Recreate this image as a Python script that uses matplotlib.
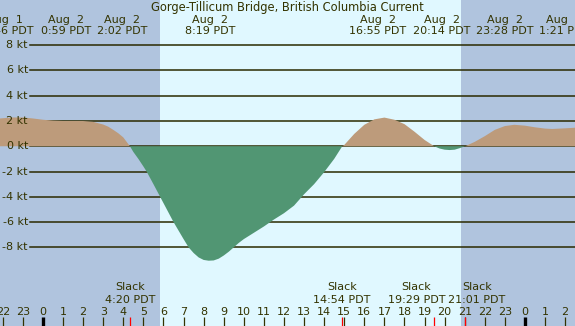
import matplotlib
matplotlib.use("Agg")
import matplotlib.pyplot as plt
import matplotlib.transforms as mtransforms
import numpy as np

# ---- data (hours relative to Aug 2 00:00 PDT, current in knots) ----
hours = [-2.14, -2.0, -1.5, -1.0, -0.5, 0.0, 0.5, 1.0, 1.5, 2.0, 2.5, 3.0, 3.25, 3.5, 3.75, 4.0, 4.33,
         4.5, 4.75, 5.0, 5.16, 5.5, 6.0, 6.5, 7.0, 7.25, 7.5, 7.75, 8.0, 8.25, 8.5, 8.75, 9.0, 9.25,
         9.5, 9.75, 10.0, 10.5, 11.0, 11.5, 12.0, 12.5, 13.0, 13.5, 14.0, 14.5, 14.9,
         15.0, 15.5, 16.0, 16.5, 17.0, 17.5, 18.0, 18.5, 19.0, 19.48,
         19.75, 20.0, 20.25, 20.5, 20.75, 21.02,
         21.5, 22.0, 22.5, 23.0, 23.47, 24.0, 24.5, 25.0, 25.35, 26.0, 26.5]
knots = [2.2, 2.22, 2.28, 2.28, 2.2, 2.1, 2.03, 2.0, 2.0, 2.0, 1.93, 1.72, 1.55, 1.3, 1.03, 0.7, 0.0,
         -0.45, -1.0, -1.6, -2.0, -3.0, -4.5, -6.0, -7.35, -8.0, -8.45, -8.8, -9.0, -9.06, -9.04, -8.9, -8.65, -8.35,
         -8.0, -7.65, -7.35, -6.85, -6.35, -5.8, -5.3, -4.7, -3.8, -3.0, -2.05, -1.0, 0.0,
         0.1, 0.98, 1.7, 2.13, 2.27, 2.1, 1.75, 1.15, 0.5, 0.0,
         -0.18, -0.27, -0.3, -0.27, -0.15, 0.0,
         0.35, 0.8, 1.3, 1.6, 1.7, 1.63, 1.5, 1.4, 1.37, 1.42, 1.47]

sunrise = 5.83
sunset = 20.82

hour_ticks = list(range(-2, 27))
slack_hours = [4.33, 14.9, 19.48, 21.02]
slack_labels = ["4:20 PDT", "14:54 PDT", "19:29 PDT", "21:01 PDT"]
slack_label_x = [4.33, 14.88, 18.6, 21.6]

event_dates = ["Aug  1", "Aug  2", "Aug  2", "Aug  2", "Aug  2", "Aug  2", "Aug  2", "Aug  3"]
event_labels = ["22:46 PDT", "0:59 PDT", "2:02 PDT", "8:19 PDT", "16:55 PDT", "20:14 PDT", "23:28 PDT", "1:21 PDT"]
event_label_x = [-1.9, 1.15, 3.93, 8.32, 16.68, 19.87, 23.0, 25.95]

grid_levels = [8, 6, 4, 2, 0, -2, -4, -6, -8]

title = "Gorge-Tillicum Bridge, British Columbia Current"

# ---- style ----
NIGHT = "#b0c4de"
DAY = "#e0f8ff"
FLOOD = "#bd9b7b"
EBB = "#519673"
TXT = "#333300"
GRID = "#2a2a00"

plt.rcParams['font.family'] = ['DejaVu Sans']
FS = 8
FS_TITLE = 8.3

fig = plt.figure(figsize=(5.75, 3.26), dpi=100)
ax = fig.add_axes([0, 0, 1, 1])
ax.set_xlim(-2.14, 26.49)
ax.set_ylim(-14.23, 11.58)
ax.axis('off')

ax.axvspan(-2.14, sunrise, color=NIGHT, lw=0, zorder=0)
ax.axvspan(sunrise, sunset, color=DAY, lw=0, zorder=0)
ax.axvspan(sunset, 26.49, color=NIGHT, lw=0, zorder=0)

for g in grid_levels:
    ax.axhline(g, xmin=30 / 575, xmax=1, color=GRID, lw=1.1, zorder=1)
    ax.text(28 / 575, g, f"{g} kt", transform=mtransforms.blended_transform_factory(ax.transAxes, ax.transData),
            ha='right', va='center', fontsize=FS, color=TXT)

t = np.array(hours)
v = np.array(knots)
ax.fill_between(t, v, 0, where=v >= 0, interpolate=True, color=FLOOD, lw=0, zorder=2)
ax.fill_between(t, v, 0, where=v <= 0, interpolate=True, color=EBB, lw=0, zorder=2)

bt = mtransforms.blended_transform_factory(ax.transData, ax.transAxes)
for h in hour_ticks:
    lab = h % 24
    midnight = lab == 0
    ax.plot([h, h], [0, 0.028], transform=bt, color='black' if midnight else TXT,
            lw=2.4 if midnight else 0.9, zorder=3, solid_capstyle='butt')
    ax.text(h, 0.043, str(lab), transform=bt, ha='center', va='center', fontsize=FS, color=TXT)

for h in slack_hours:
    ax.plot([h, h], [0, 0.028], transform=bt, color='red', lw=0.9, zorder=4, solid_capstyle='butt')

for x, lab in zip(slack_label_x, slack_labels):
    ax.text(x, 0.12, "Slack", transform=bt, ha='center', va='center', fontsize=FS, color=TXT)
    ax.text(x, 0.08, lab, transform=bt, ha='center', va='center', fontsize=FS, color=TXT)

ax.text(0.5, 0.9785, title, transform=ax.transAxes, ha='center', va='center', fontsize=FS_TITLE, color=TXT)
for x, d, lab in zip(event_label_x, event_dates, event_labels):
    ax.text(x, 0.939, d, transform=bt, ha='center', va='center', fontsize=FS, color=TXT)
    ax.text(x, 0.905, lab, transform=bt, ha='center', va='center', fontsize=FS, color=TXT)

fig.savefig("out.png", dpi=100)
